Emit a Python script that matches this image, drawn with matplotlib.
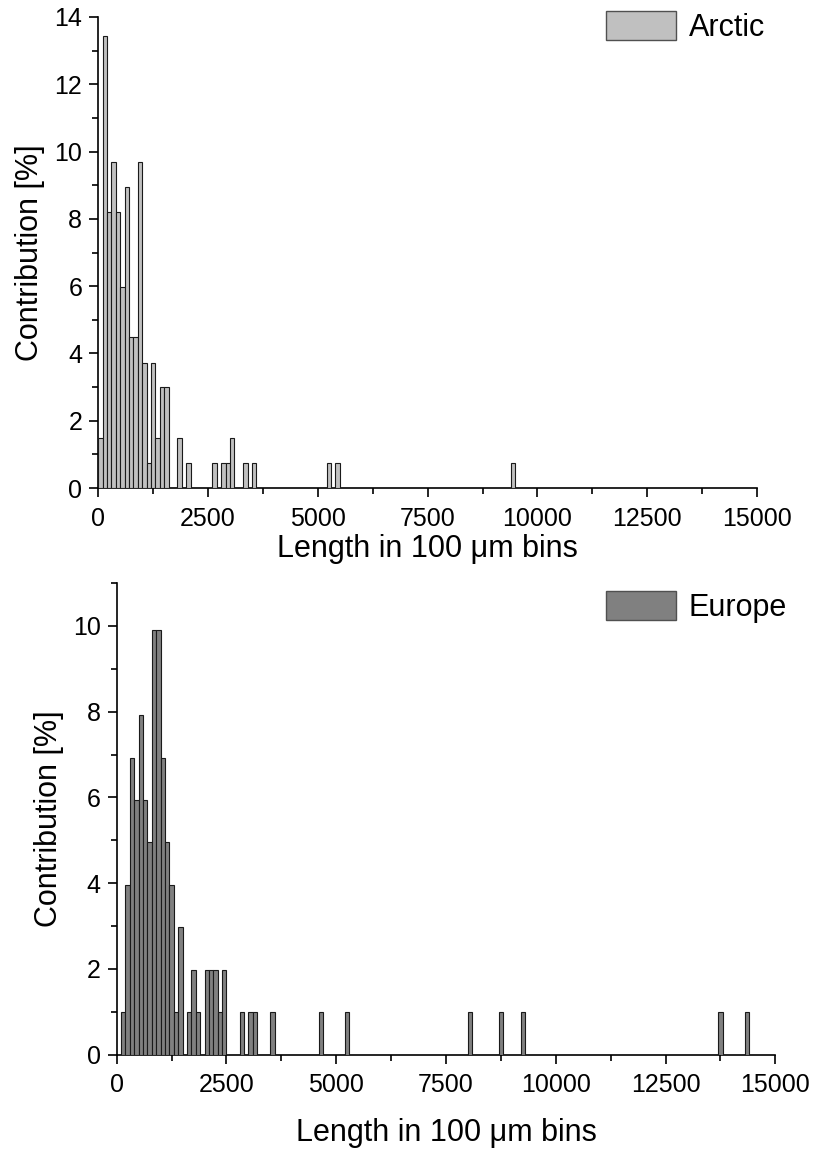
import matplotlib
matplotlib.use("Agg")
import matplotlib.pyplot as plt
from matplotlib.ticker import MultipleLocator
from matplotlib.patches import Patch

plt.rcParams['font.family'] = ['Liberation Sans', 'DejaVu Sans']

# ---- data (bin left edge in µm, contribution in %) ----
arctic_bins = [0, 100, 200, 300, 400, 500, 600, 700, 800, 900, 1000, 1100, 1200,
               1300, 1400, 1500, 1800, 2000, 2600, 2800, 2900, 3000, 3300, 3500,
               5200, 5400, 9400]
arctic_pct = [1.49, 13.43, 8.21, 9.70, 8.21, 5.97, 8.96, 4.48, 4.48, 9.70, 3.73,
              0.75, 3.73, 1.49, 2.99, 2.99, 1.49, 0.75, 0.75, 0.75, 0.75, 1.49,
              0.75, 0.75, 0.75, 0.75, 0.75]

europe_bins = [100, 200, 300, 400, 500, 600, 700, 800, 900, 1000, 1100, 1200, 1300,
               1400, 1600, 1700, 1800, 2000, 2100, 2200, 2300, 2400, 2800, 3000,
               3100, 3500, 4600, 5200, 8000, 8700, 9200, 13700, 14300]
europe_pct = [0.99, 3.96, 6.93, 5.94, 7.92, 5.94, 4.95, 9.90, 9.90, 6.93, 4.95,
              3.96, 0.99, 2.97, 0.99, 1.98, 0.99, 1.98, 1.98, 1.98, 0.99, 1.98,
              0.99, 0.99, 0.99, 0.99, 0.99, 0.99, 0.99, 0.99, 0.99, 0.99, 0.99]

bin_width = 100
xlabel = "Length in 100 \u03bcm bins"
ylabel = "Contribution [%]"

W, H = 814, 1158
fig = plt.figure(figsize=(W / 100, H / 100), dpi=100)

def px_axes(left, right, top, bottom):
    return fig.add_axes([left / W, 1 - bottom / H, (right - left) / W, (bottom - top) / H])

ax1 = px_axes(98.3, 757.0, 17.0, 488.0)
ax2 = px_axes(116.7, 775.3, 583.0, 1054.7)

TICK_FS = 18
LAB_FS = 22

def style(ax, ymax, label, fc, legend_top_px, xlabelpad):
    ax.set_xlim(0, 15000)
    ax.set_ylim(0, ymax)
    ax.xaxis.set_major_locator(MultipleLocator(2500))
    ax.xaxis.set_minor_locator(MultipleLocator(1250))
    ax.yaxis.set_major_locator(MultipleLocator(2))
    ax.yaxis.set_minor_locator(MultipleLocator(1))
    for s in ('top', 'right'):
        ax.spines[s].set_visible(False)
    for s in ('left', 'bottom'):
        ax.spines[s].set_linewidth(1.2)
        ax.spines[s].set_color('black')
    ax.tick_params(which='major', direction='out', length=6.5, width=1.2,
                   labelsize=TICK_FS, pad=5)
    ax.tick_params(axis='x', which='major', pad=7)
    ax.tick_params(which='minor', direction='out', length=4, width=1.2)
    ax.set_xlabel(xlabel, fontsize=LAB_FS, labelpad=xlabelpad)
    ax.set_ylabel(ylabel, fontsize=LAB_FS, labelpad=6.5)
    handle = Patch(facecolor=fc, edgecolor='#505050', linewidth=1.0)
    ax.legend([handle], [label], loc='upper left',
              bbox_to_anchor=(606 / W, 1 - legend_top_px / H),
              bbox_transform=fig.transFigure, frameon=False,
              fontsize=LAB_FS, handlelength=2.3, handleheight=1.1,
              handletextpad=0.4, borderpad=0, borderaxespad=0)

ax1.bar(arctic_bins, arctic_pct, width=bin_width, align='edge',
        color='#C0C0C0', edgecolor='#1a1a1a', linewidth=0.8, zorder=3)
style(ax1, 14, "Arctic", '#C0C0C0', 11, 2)

ax2.bar(europe_bins, europe_pct, width=bin_width, align='edge',
        color='#808080', edgecolor='#1a1a1a', linewidth=0.8, zorder=3)
style(ax2, 11, "Europe", '#808080', 591, 15)

fig.savefig("out.png", dpi=100)
